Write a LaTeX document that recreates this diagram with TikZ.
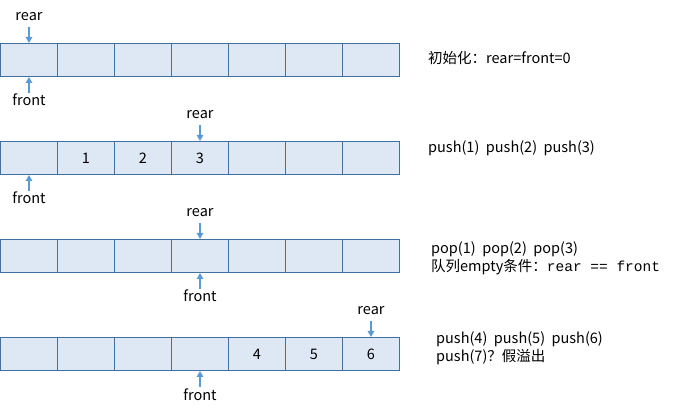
\documentclass[tikz,border=0pt]{standalone}
\usepackage{fontspec}
\setmainfont{Noto Sans CJK SC}
\newfontfamily\codefont{Liberation Mono}
\usetikzlibrary{arrows.meta}

\definecolor{cellfill}{HTML}{DEE8F5}
\definecolor{celledge}{HTML}{41719C}
\definecolor{ptrblue}{HTML}{5B9BD5}

\begin{document}
\begin{tikzpicture}[x=1pt, y=-1pt,
    font=\fontsize{14.5}{18}\selectfont,
    cell/.style={draw=celledge, fill=cellfill, line width=1pt,
        minimum width=57pt, minimum height=33pt, inner sep=0pt, anchor=north west},
    lbl/.style={inner sep=0pt, text height=10pt, text depth=0pt},
    ptr/.style={draw=ptrblue, line width=1.4pt, -{Triangle[length=6pt,width=6.5pt]}},
    note/.style={anchor=west, align=left, inner sep=0pt}]
  \useasboundingbox (0,0) rectangle (680,411);

  % four snapshots of the array
  \foreach \r/\y in {1/43, 2/141, 3/239, 4/337} {
      \foreach \i in {1, ..., 7} {
          \node[cell] (c\r\i) at ({57*(\i-1)}, \y) {};
        }
    }

  % stored values
  \foreach \r/\i/\v in {2/2/1, 2/3/2, 2/4/3, 4/5/4, 4/6/5, 4/7/6} {
      \node (v\r\i) at (c\r\i) {\v};
    }

  % rear and front pointers
  \foreach \r/\a/\b in {1/1/1, 2/4/1, 3/4/4, 4/7/4} {
      \path (c\r\a.north) ++(0,-27) node[lbl] (rear\r) {rear};
      \path (c\r\b.south) ++(0,24) node[lbl] (front\r) {front};
      \draw[ptr, shorten <=6pt] (rear\r) -- (c\r\a.north);
      \draw[ptr, shorten <=3pt] (front\r) -- (c\r\b.south);
    }

  % notes
  \node[note] (n1) at (428, 58) {初始化：rear=front=0};
  \node[note] (n2) at (428, 148) {push(1)~~push(2)~~push(3)};
  \node[note] (n3) at (431, 258.5) {pop(1)~~pop(2)~~pop(3)\\队列empty条件：{\codefont rear == front}};
  \node[note] (n4) at (436, 348.5) {push(4)~~push(5)~~push(6)\\push(7)？假溢出};
\end{tikzpicture}
\end{document}
